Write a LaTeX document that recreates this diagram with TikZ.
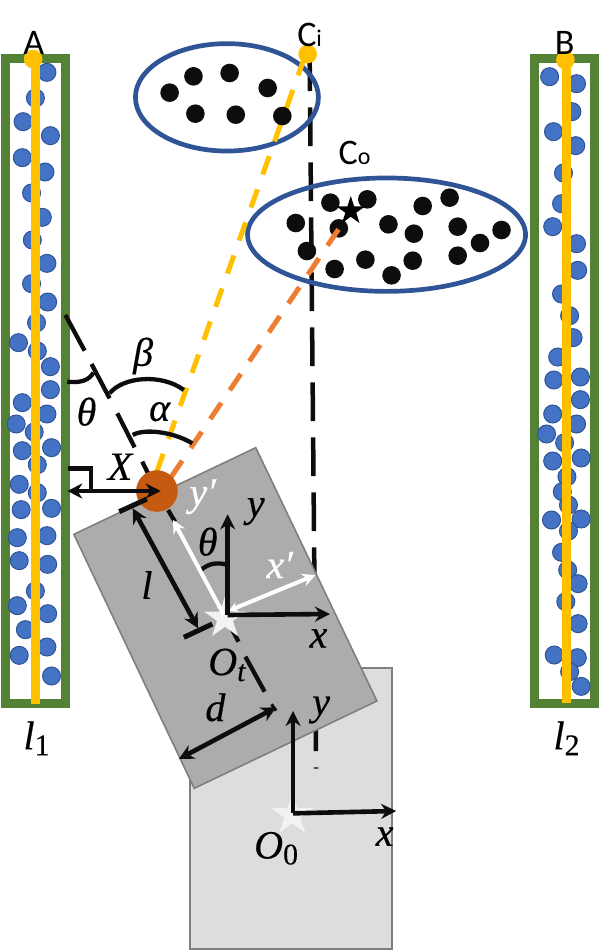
\documentclass[tikz,border=0pt]{standalone}
\usepackage{fontspec}
\setmainfont{Carlito}
\newfontfamily\labfam[ItalicFeatures={FakeBold=0.4},UprightFeatures={FakeBold=0.2}]{Liberation Serif}
\usetikzlibrary{arrows.meta,shapes.geometric}
\definecolor{tubegreen}{HTML}{548235}
\definecolor{lineyellow}{HTML}{FFC000}
\definecolor{lineorange}{HTML}{ED7D31}
\definecolor{ballblue}{HTML}{4472C4}
\definecolor{ballrim}{HTML}{2F5597}
\definecolor{ringblue}{HTML}{2F5597}
\definecolor{dotblack}{HTML}{0D0D0D}
\definecolor{robot}{HTML}{C55A11}
\definecolor{darkplate}{HTML}{AEABAB}
\definecolor{lightplate}{HTML}{DEDCDF}
\definecolor{rimgray}{HTML}{7F7F7F}
\definecolor{starwhite}{HTML}{F2F2F2}
\newcommand{\bigtxt}{\fontsize{36}{36}\selectfont}
\newcommand{\smalltxt}{\fontsize{24}{24}\selectfont}
\newcommand{\mlab}[1]{{\fontsize{40}{40}\selectfont\labfam\itshape #1}}
\newcommand{\msub}[1]{{\fontsize{30}{30}\selectfont\labfam #1}}
\newcommand{\msubi}[1]{{\fontsize{30}{30}\selectfont\labfam\itshape #1}}
\tikzset{
  tube/.style={draw=tubegreen,line width=9pt},
  railline/.style={lineyellow,line width=9pt},
  ball/.style={fill=ballblue},
  ring/.style={draw=ringblue,line width=4.7pt},
  yellowdash/.style={lineyellow,line width=5pt,dash pattern=on 19.4pt off 15.7pt},
  orangedash/.style={lineorange,line width=5pt,dash pattern=on 19.6pt off 15.3pt},
  axisline/.style={dotblack,line width=4.3pt},
  measure/.style={dotblack,line width=4.3pt},
  onehead/.style={dotblack,line width=4.6pt,-{Stealth[length=15pt,width=15pt]}},
  twohead/.style={dotblack,line width=4.6pt,{Stealth[length=15pt,width=15pt]}-{Stealth[length=15pt,width=15pt]}},
  whitehead/.style={white,line width=4pt,-{Stealth[length=13pt,width=13pt]}},
  whitetwo/.style={white,line width=4pt,{Stealth[length=9pt,width=10pt]}-{Stealth[length=13pt,width=13pt]}},
  refstar/.style={star,star points=5,star point ratio=2.618,inner sep=0pt,outer sep=0pt,fill=starwhite,minimum size=44pt},
  lab/.style={inner sep=0pt,outer sep=0pt,anchor=center}
}
\begin{document}
\begin{tikzpicture}[x=0.384615pt,y=-0.33333pt]
\useasboundingbox (0,0) rectangle (1567.8,2850);
% tubes
\draw[tube] (14,175) rectangle (170,2110);
\draw[tube] (1390.5,175) rectangle (1546.5,2110);
\foreach \p/\q in {122/217,92/294,60/365,131/407,58/473,117/516,82/579,110/652,84/720,122/790,82/851,124/906,95/968,48/1028,97/1053,131/1100,131/1169,58/1208,122/1242,42/1272,89/1296,58/1352,134/1343,97/1394,50/1453,97/1478,55/1529,134/1525,45/1613,122/1607,50/1682,124/1693,92/1773,45/1817,124/1841,66/1889,122/1941,50/1966,134/2028,1429/230,1499/251,1487/335,1439/395,1497/437,1465/519,1460/611,1437/680,1499/731,1502/811,1460/882,1481/947,1490/1013,1450/1071,1440/1140,1509/1131,1509/1199,1437/1242,1499/1272,1421/1302,1468/1328,1437/1383,1511/1374,1474/1430,1462/1475,1478/1515,1434/1560,1511/1557,1478/1593,1460/1657,1476/1710,1503/1751,1471/1805,1503/1871,1441/1965,1501/1973,1481/2015,1511/2059}
  \filldraw[ball,draw=ballrim,line width=1pt] (\p,\q) circle[radius=9pt];
\draw[railline] (92,175) -- (92,2113);
\draw[railline] (1473,180) -- (1473,2109);
\fill[lineyellow] (86,177) circle[radius=9.3pt];
\fill[lineyellow] (1470,180) circle[radius=9.3pt];
% plates and central line
\draw[rimgray,fill=lightplate,line width=2pt] (494,2003) rectangle (1020,2847);
\draw[dotblack,line width=4.5pt,dash pattern=on 38.7pt off 16.3pt] (805,157) -- (822,2306);
% clusters
\draw[ring] (590,292) ellipse[x radius=91.5pt,y radius=53.7pt];
\draw[ring] (1005,704) ellipse[x radius=139pt,y radius=56.7pt];
% rotated plate
\draw[rimgray,fill=darkplate,line width=1.6pt] (665,1343) -- (980,2103) -- (505,2365) -- (192,1603) -- cycle;
% rotated axis
\foreach \a/\b/\c/\d in {170/945/220/1052,238/1092/285/1195,305/1240/350/1342,370/1385/387/1425,437/1530/455/1565,595/1870/620/1925,638/1970/688/2075}
  \draw[axisline] (\a,\b) -- (\c,\d);
% sight lines
\coordinate (Cistart) at (792,171);
\coordinate (Ciend) at (400,1440);
\draw[yellowdash] (Cistart) -- (Ciend);
\foreach \p/\q in {441/278,503/229,597/219,696/264,508/341,613/344,734/348,769/669,859/608,955/598,881/685,1010/673,1099/618,1169/593,1076/701,1190/680,1304/690,1248/729,1190/767,1073/782,1018/826,950/779,870/807,798/753}
  \fill[dotblack] (\p,\q) circle[radius=9.3pt];
\node[star,star points=5,star point ratio=2.618,inner sep=0pt,fill=black,minimum size=30pt] (target) at (912,633) {};
\coordinate (Costart) at (880,688);
\coordinate (Coend) at (428,1460);
\draw[orangedash] (Costart) -- (Coend);
\fill[lineyellow] (800,162) circle[radius=9.3pt];
\fill[robot] (408,1473) circle[radius=20.8pt];
% angle arcs
\draw[measure] (175,1145) .. controls (210,1150) and (232,1140) .. (243,1118);
\draw[measure] (285,1180) .. controls (320,1130) and (420,1120) .. (478,1170);
\draw[measure] (345,1305) .. controls (375,1285) and (450,1295) .. (500,1330);
\draw[measure] (520,1713) .. controls (540,1690) and (565,1685) .. (592,1695);
% right angle and ticks
\coordinate (wall) at (175,1473);
\coordinate (robotc) at (418,1473);
\draw[measure,line width=4.6pt] (178,1405) -- (237,1405) -- (237,1470);
\draw[twohead] (wall) -- (robotc);
\draw[measure,line width=5pt] (310,1535) -- (382,1497);
\draw[measure,line width=5pt] (478,1912) -- (552,1872);
\coordinate (lA) at (345,1525);
\coordinate (lB) at (515,1885);
\draw[twohead] (lA) -- (lB);
\coordinate (dA) at (465,2277);
\coordinate (dB) at (718,2122);
\draw[twohead] (dA) -- (dB);
\draw[measure,line width=3pt] (706,2113) -- (718,2132);
% tool frame
\node[refstar] (Ot) at (585,1855) {};
\coordinate (tO) at (592,1845);
\coordinate (tY) at (592,1543);
\coordinate (tX) at (858,1842);
\coordinate (wS) at (582,1845);
\coordinate (wY) at (450,1560);
\coordinate (wS2) at (595,1832);
\coordinate (wX) at (820,1725);
\draw[whitehead] (wS) -- (wY);
\draw[whitetwo] (wS2) -- (wX);
\draw[onehead] (tO) -- (tY);
\draw[onehead] (tO) -- (tX);
% base frame
\node[refstar] (Oo) at (760,2445) {};
\coordinate (bO) at (762,2440);
\coordinate (bY) at (762,2133);
\coordinate (bX) at (1030,2433);
\draw[onehead] (bO) -- (bY);
\draw[onehead] (bO) -- (bX);
% labels
\node[lab] (A) at (88,130) {\bigtxt A};
\node[lab] (B) at (1468,128) {\bigtxt B};
\node[lab] (Ci) at (805,105) {\bigtxt C\smalltxt i};
\node[lab] (Co) at (922,460) {\bigtxt C\smalltxt o};
\node[lab] (thetaA) at (225,1235) {\mlab{θ}};
\node[lab] (beta) at (372,1068) {\mlab{β}};
\node[lab] (alpha) at (415,1235) {\mlab{α}};
\node[lab] (Xl) at (312,1400) {\mlab{X}};
\node[lab] (lab1) at (382,1755) {\mlab{l}};
\node[lab] (dl) at (560,2122) {\mlab{d}};
\node[lab] (thetaB) at (540,1625) {\mlab{θ}};
\node[lab] (yt) at (665,1535) {\mlab{y}};
\node[lab] (xt) at (828,1915) {\mlab{x}};
\node[lab,text=white] (ypr) at (527,1490) {\mlab{y′}};
\node[lab,text=white] (xpr) at (727,1695) {\mlab{x′}};
\node[lab] (Otl) at (590,1995) {\mlab{O}\raisebox{-6pt}{\msubi{t}}};
\node[lab] (yb) at (835,2130) {\mlab{y}};
\node[lab] (xb) at (1000,2510) {\mlab{x}};
\node[lab] (Obl) at (718,2545) {\mlab{O}\raisebox{-6pt}{\msub{0}}};
\node[lab] (l1l) at (95,2215) {\mlab{l}\raisebox{-6pt}{\msub{1}}};
\node[lab] (l2l) at (1473,2215) {\mlab{l}\raisebox{-6pt}{\msub{2}}};
\end{tikzpicture}
\end{document}
